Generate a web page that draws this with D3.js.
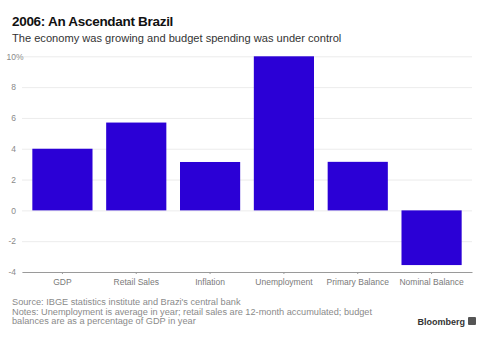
<!DOCTYPE html>
<html>
<head>
<meta charset="utf-8">
<script src="https://cdn.jsdelivr.net/npm/d3@7"></script>
<style>
  body { margin: 0; background: #fff; }
  text { font-family: "Liberation Sans", Arial, sans-serif; }
</style>
</head>
<body>
<div id="root"></div>
<script>
const categories = ["GDP", "Retail Sales", "Inflation", "Unemployment", "Primary Balance", "Nominal Balance"];
const values = [4.0, 5.7, 3.14, 10.0, 3.15, -3.55];
const yTicks = [-4, -2, 0, 2, 4, 6, 8, 10];

const width = 488;
const height = 339;

const svg = d3
  .select("#root")
  .append("svg")
  .attr("width", width)
  .attr("height", height)
  .attr("viewBox", [0, 0, width, height]);

const plotLeft = 22;
const plotRight = 472;
const plotTop = 56.3;
const plotBottom = 272;

const x = d3
  .scaleBand()
  .domain(categories)
  .range([plotLeft, plotRight])
  .paddingInner(0.185)
  .paddingOuter(0.14);

const y = d3.scaleLinear().domain([-4, 10]).range([plotBottom, plotTop]);

// gridlines + y labels
const yAxis = svg
  .append("g")
  .attr("transform", `translate(${plotLeft},0)`)
  .call(
    d3
      .axisLeft(y)
      .tickValues(yTicks)
      .tickSize(-(plotRight - plotLeft))
      .tickFormat((d) => d)
  );
yAxis.select(".domain").remove();
yAxis
  .selectAll(".tick line")
  .attr("stroke", "#ececec")
  .attr("stroke-width", 1);
yAxis
  .selectAll(".tick text")
  .attr("x", -6)
  .attr("fill", "#8a8a8a")
  .style("font-size", "8.5px");
// percent sign hangs after the top label
yAxis
  .selectAll(".tick")
  .filter((d) => d === 10)
  .append("text")
  .attr("x", -6)
  .attr("dy", "0.32em")
  .attr("fill", "#8a8a8a")
  .attr("text-anchor", "start")
  .style("font-size", "8.5px")
  .text("%");

// bars
svg
  .append("g")
  .selectAll("rect")
  .data(values)
  .join("rect")
  .attr("x", (d, i) => x(categories[i]))
  .attr("width", x.bandwidth())
  .attr("y", (d) => y(Math.max(0, d)))
  .attr("height", (d) => Math.abs(y(d) - y(0)))
  .attr("fill", "#2b00d6");

// x axis
const xAxis = svg
  .append("g")
  .attr("transform", `translate(0,${plotBottom})`)
  .call(d3.axisBottom(x).tickSizeOuter(0).tickSizeInner(2).tickPadding(5));
xAxis.select(".domain").attr("stroke", "#9a9a9a");
xAxis.selectAll(".tick line").attr("stroke", "#9a9a9a");
xAxis
  .selectAll(".tick text")
  .attr("fill", "#7a7a7a")
  .style("font-size", "8.5px");

// title
svg
  .append("text")
  .text("2006: An Ascendant Brazil")
  .attr("x", 12)
  .attr("y", 26)
  .attr("fill", "#111")
  .style("font-size", "13.5px")
  .style("font-weight", "bold")
  .style("letter-spacing", "-0.3px");

svg
  .append("text")
  .text("The economy was growing and budget spending was under control")
  .attr("x", 12)
  .attr("y", 42)
  .attr("fill", "#333")
  .style("font-size", "11.1px");

// footer
const notes = [
  "Source: IBGE statistics institute and Brazi's central bank",
  "Notes: Unemployment is average in year; retail sales are 12-month accumulated; budget",
  "balances are as a percentage of GDP in year",
];
svg
  .append("g")
  .selectAll("text")
  .data(notes)
  .join("text")
  .attr("x", 12)
  .attr("y", (d, i) => 305 + i * 9.7)
  .attr("fill", "#8a8a8a")
  .style("font-size", "9.2px")
  .text((d) => d);

svg
  .append("text")
  .text("Bloomberg")
  .attr("x", 465)
  .attr("y", 325)
  .attr("text-anchor", "end")
  .attr("fill", "#333")
  .style("font-size", "9px")
  .style("font-weight", "bold");

svg
  .append("rect")
  .attr("x", 468)
  .attr("y", 317)
  .attr("width", 8)
  .attr("height", 8)
  .attr("rx", 1)
  .attr("fill", "#555");
</script>
</body>
</html>
